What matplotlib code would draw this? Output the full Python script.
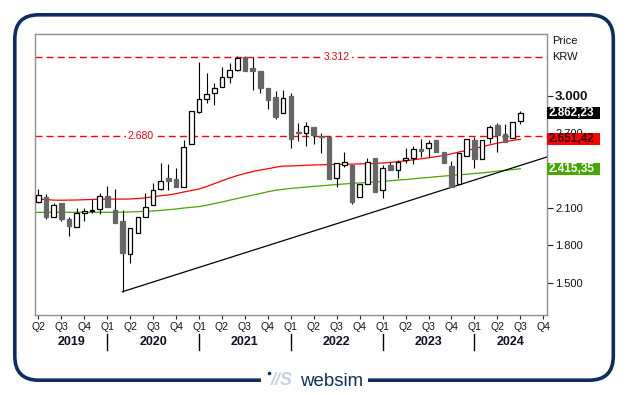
import numpy as np
import pandas as pd
import matplotlib
matplotlib.use("Agg")
import matplotlib.pyplot as plt
from matplotlib.patches import Rectangle, FancyBboxPatch, Circle
from matplotlib.lines import Line2D
from matplotlib.transforms import blended_transform_factory

plt.rcParams['font.family'] = ['Liberation Sans', 'DejaVu Sans']

# ---------------- data (monthly, Apr 2019 - Jul 2024) ----------------
months = pd.period_range('2019-04', '2024-07', freq='M')
opens = [2145, 2185, 2025, 2140, 2011, 1950, 2057, 2073, 2089, 2196, 2084, 1995,
         1727, 1896, 2030, 2121, 2250, 2341, 2333, 2271, 2612, 2874, 2979, 3021,
         3075, 3150, 3212, 3311, 3222, 3204, 3067, 2995, 2861, 3000, 2711, 2700,
         2751, 2682, 2673, 2338, 2443, 2445, 2185, 2293, 2502, 2244, 2445, 2405,
         2485, 2499, 2571, 2579, 2646, 2550, 2437, 2290, 2518, 2646, 2491, 2660,
         2767, 2694, 2660, 2799]
highs = [2250, 2212, 2137, 2140, 2030, 2097, 2097, 2169, 2218, 2277, 2250, 2084,
         1936, 2030, 2217, 2298, 2459, 2453, 2419, 2646, 2877, 3273, 3185, 3102,
         3231, 3263, 3322, 3322, 3311, 3204, 3067, 3043, 3048, 3022, 2780, 2788,
         2751, 2702, 2678, 2459, 2550, 2445, 2290, 2499, 2502, 2445, 2472, 2485,
         2579, 2598, 2652, 2646, 2646, 2550, 2477, 2539, 2652, 2673, 2646, 2767,
         2780, 2775, 2794, 2882]
lows = [2137, 2012, 2025, 1998, 1875, 1950, 1998, 2057, 2052, 2110, 1976, 1427,
        1655, 1896, 2030, 2121, 2244, 2244, 2266, 2266, 2612, 2866, 2941, 2928,
        3075, 3107, 3204, 3201, 3048, 3022, 2896, 2815, 2861, 2585, 2641, 2600,
        2611, 2545, 2330, 2266, 2427, 2132, 2185, 2293, 2231, 2177, 2405, 2338,
        2459, 2451, 2507, 2512, 2552, 2459, 2266, 2290, 2518, 2419, 2491, 2619,
        2552, 2633, 2660, 2775]
closes = [2204, 2030, 2121, 2011, 1955, 2057, 2073, 2081, 2196, 2110, 1976, 1741,
          1936, 2025, 2105, 2244, 2319, 2319, 2266, 2587, 2877, 2979, 3013, 3062,
          3150, 3206, 3303, 3201, 3204, 3067, 2968, 2829, 2981, 2657, 2700, 2759,
          2690, 2670, 2330, 2459, 2469, 2151, 2290, 2467, 2231, 2418, 2405, 2472,
          2499, 2571, 2560, 2625, 2552, 2459, 2266, 2539, 2652, 2491, 2646, 2748,
          2686, 2633, 2794, 2862]
ma_red = [2170, 2168, 2163, 2162, 2163, 2164, 2166, 2168, 2170, 2171, 2171, 2171,
          2172, 2176, 2182, 2190, 2198, 2205, 2215, 2228, 2240, 2252, 2272, 2295,
          2318, 2340, 2360, 2377, 2392, 2405, 2415, 2427, 2437, 2437, 2440, 2443,
          2445, 2447, 2449, 2450, 2451, 2452, 2454, 2456, 2458, 2461, 2466, 2472,
          2479, 2487, 2495, 2503, 2512, 2522, 2535, 2550, 2562, 2576, 2592, 2607,
          2620, 2632, 2643, 2651]
ma_green = [2065, 2065, 2065, 2065, 2065, 2065, 2065, 2065, 2065, 2065, 2065, 2066,
            2068, 2070, 2073, 2076, 2080, 2086, 2092, 2099, 2105, 2111, 2122, 2135,
            2148, 2162, 2176, 2190, 2203, 2216, 2230, 2242, 2250, 2257, 2262, 2268,
            2273, 2278, 2283, 2288, 2293, 2297, 2301, 2305, 2309, 2313, 2318, 2324,
            2328, 2334, 2340, 2345, 2351, 2356, 2361, 2366, 2371, 2377, 2382, 2388,
            2396, 2402, 2408, 2415]
hlevels = [3312, 2680]
hlevel_labels = ['3.312', '2.680']
trend_idx = [11, 54]          # Mar 2020 low, Oct 2023 low
trend_val = [1427, 2266]
yticks = [1500, 1800, 2100, 2400, 2700, 3000]
ytick_labels = ['1.500', '1.800', '2.100', '', '2.700', '3.000']  # 2.400 sits under the green box
last_labels = ['2.862,23', '2.651,42', '2.415,35']
last_values = [2862.23, 2651.42, 2415.35]
years = ['2019', '2020', '2021', '2022', '2023', '2024']

# ---------------- figure ----------------
W, H = 629, 395
fig = plt.figure(figsize=(W / 100, H / 100), dpi=100)
fig.patch.set_facecolor('white')

L, R, T, B = 35.3, 546.7, 34.0, 314.7
ax = fig.add_axes([L / W, 1 - B / H, (R - L) / W, (B - T) / H])
n = len(months)
x = np.arange(n)
XMIN, XMAX = -0.4, 66.45
ax.set_xlim(XMIN, XMAX)
ax.set_ylim(1242, 3498)

RED = '#ff0000'
GREEN = '#44a800'

# moving averages (start at the left border)
ax.plot(np.r_[XMIN, x], np.r_[ma_red[0], ma_red], color=RED, lw=0.9, zorder=2)
ax.plot(np.r_[XMIN, x], np.r_[ma_green[0], ma_green], color=GREEN, lw=0.9, zorder=2)

# horizontal levels
lab_pos = [39.0, 13.4]
for lv, lt, lp in zip(hlevels, hlevel_labels, lab_pos):
    ax.axhline(lv, color=RED, lw=1.0, ls=(0, (5, 3)), zorder=2)
    ax.text(lp, lv, lt, color=RED, fontsize=7.5, ha='center', va='center', zorder=4,
            bbox=dict(facecolor='white', edgecolor='none', pad=1.5))

# trend line
slope = (trend_val[1] - trend_val[0]) / (trend_idx[1] - trend_idx[0])
tx = np.array([trend_idx[0], XMAX])
ty = trend_val[0] + slope * (tx - trend_idx[0])
ax.plot(tx, ty, color='black', lw=0.9, zorder=2)

# candles
w = 0.6
for i in range(n):
    o, h, l, c = opens[i], highs[i], lows[i], closes[i]
    ax.plot([i, i], [l, h], color='black', lw=0.8, zorder=3, solid_capstyle='butt')
    lo, hi = min(o, c), max(o, c)
    hgt = max(hi - lo, 6)
    if c >= o:
        ax.add_patch(Rectangle((i - w / 2, lo), w, hgt, facecolor='white',
                               edgecolor='black', lw=0.9, zorder=4))
    else:
        ax.add_patch(Rectangle((i - w / 2, lo), w, hgt, facecolor='#666666',
                               edgecolor='#666666', lw=0.9, zorder=4))

# axes styling
for s in ax.spines.values():
    s.set_color('#8e8e9e')
    s.set_linewidth(1.0)
ax.yaxis.tick_right()
ax.set_yticks(yticks)
ax.set_yticklabels(ytick_labels)
ax.tick_params(axis='y', length=4, width=0.8, color='#222222', pad=2,
               labelsize=8, labelcolor='#111122')
for t in ax.get_yticklabels():
    if t.get_text() == '3.000':
        t.set_fontsize(9.5)
        t.set_fontweight('bold')

qt = list(range(0, 67, 3))
ax.set_xticks(qt)
ax.set_xticklabels(['Q%d' % (((3 + q) % 12) // 3 + 1) for q in qt])
ax.tick_params(axis='x', length=3, width=0.8, color='#222222', pad=2,
               labelsize=7.5, labelcolor='#111122')

# year labels and separators
bt = blended_transform_factory(ax.transData, fig.transFigure)
seps = [9, 21, 33, 45, 57]
bounds = [XMIN] + seps + [XMAX]
for k, yl in enumerate(years):
    cx = (bounds[k] + bounds[k + 1]) / 2
    fig.text(cx, 1 - 342 / H, yl, transform=bt, ha='center', va='center',
             fontsize=9, fontweight='bold', color='#111122')
for s in seps:
    fig.add_artist(Line2D([s, s], [1 - 334 / H, 1 - 350 / H], transform=bt,
                          color='black', lw=1.0))

# right side labels
yt = ax.get_yaxis_transform()
ax.text(1.0104, (B - 41) / (B - T), 'Price', transform=ax.transAxes, fontsize=8,
        ha='left', va='center', color='#111122')
ax.text(1.0104, (B - 57) / (B - T), 'KRW', transform=ax.transAxes, fontsize=8,
        ha='left', va='center', color='#111122')
box_cols = ['black', '#ff0000', '#44a800']
txt_cols = ['white', '#220000', 'white']
bh = 12.3 / ((B - T) / (3498 - 1242))
for lbl, v, bc, tc in zip(last_labels, last_values, box_cols, txt_cols):
    ax.add_patch(Rectangle((1.0, v - bh / 2), 53 / (R - L), bh, transform=yt,
                           facecolor=bc, edgecolor='none', clip_on=False, zorder=6))
    ax.text(1.003, v, lbl, transform=yt, fontsize=8.5, fontweight='bold',
            color=tc, ha='left', va='center', zorder=7, clip_on=False)

# ---------------- outer frame and logo ----------------
ov = fig.add_axes([0, 0, 1, 1], zorder=-1)
ov.set_xlim(0, W)
ov.set_ylim(H, 0)
ov.axis('off')
NAVY = '#0e2d5e'
ov.add_patch(FancyBboxPatch((14.8, 14.8), 613.3 - 14.8, 380.2 - 14.8,
                            boxstyle='round,pad=0,rounding_size=24',
                            facecolor='none', edgecolor=NAVY, lw=2.6))
ov2 = fig.add_axes([0, 0, 1, 1], zorder=10)
ov2.set_xlim(0, W)
ov2.set_ylim(H, 0)
ov2.axis('off')
ov2.add_patch(Rectangle((261, 372), 107, 14, facecolor='white', edgecolor='none'))
ov2.add_patch(Circle((269.5, 373.5), 1.8, facecolor=NAVY, edgecolor='none'))
ov2.text(271, 385, '//S', fontsize=13, fontweight='bold', style='italic',
         color='#c6d1de', ha='left', va='baseline')
ov2.text(300, 386, 'websim', fontsize=13.4, color=NAVY, ha='left', va='baseline')

fig.savefig('out.png', dpi=100)
